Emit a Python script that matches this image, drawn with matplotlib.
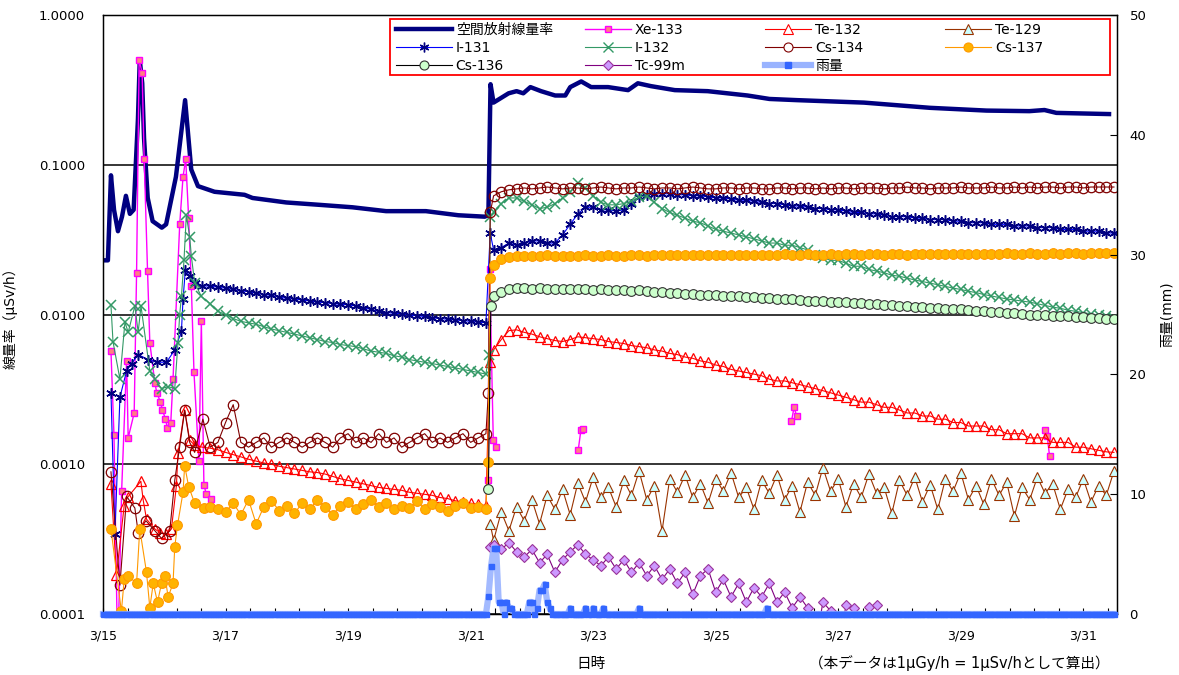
import numpy as np
import matplotlib
matplotlib.use("Agg")
import matplotlib.pyplot as plt
from matplotlib.lines import Line2D
from matplotlib.legend import Legend
from matplotlib.patches import Rectangle
from matplotlib.ticker import FixedLocator, FuncFormatter, NullLocator

plt.rcParams['font.family'] = ['DejaVu Sans', 'Noto Sans CJK JP']

# ---------------- data (x = day of March, fractional) ----------------
STEP = 0.125          # 3-hour sampling of the dense periods
PRE_START = 16.75     # 3/16 18:00
POST_START = 21.375   # 3/21 09:00

# Air dose rate (μSv/h)
DOSE_T = [15.0, 15.08, 15.13, 15.18, 15.244, 15.31, 15.374, 15.439, 15.50, 15.57,
          15.60, 15.64, 15.67, 15.73, 15.81, 15.96, 16.03, 16.19, 16.34, 16.44,
          16.55, 16.82, 17.31, 17.44, 17.99, 18.53, 19.07, 19.62, 20.27, 20.80,
          21.23, 21.29, 21.325, 21.374, 21.62, 21.75, 21.86, 21.976, 22.15, 22.38,
          22.545, 22.626, 22.805, 22.967, 23.244, 23.57, 23.73, 23.943, 24.333, 24.87,
          25.52, 25.878, 26.333, 27.42, 28.496, 29.42, 30.12, 30.366, 30.56, 31.42]
DOSE_V = [0.023, 0.023, 0.085, 0.05, 0.036, 0.045, 0.062, 0.047, 0.05, 0.2,
          0.5, 0.35, 0.15, 0.06, 0.042, 0.038, 0.04, 0.083, 0.27, 0.093,
          0.072, 0.066, 0.063, 0.060, 0.056, 0.054, 0.052, 0.049, 0.049, 0.046,
          0.045, 0.046, 0.345, 0.26, 0.30, 0.31, 0.30, 0.33, 0.31, 0.29,
          0.29, 0.33, 0.36, 0.33, 0.33, 0.315, 0.35, 0.335, 0.315, 0.31,
          0.29, 0.275, 0.27, 0.26, 0.24, 0.23, 0.228, 0.232, 0.222, 0.218]

nan = np.nan
XE133_T = [15.13, 15.179, 15.24, 15.304, 15.385, 15.411, 15.509, 15.548, 15.590, 15.639,
           15.672, 15.727, 15.764, 15.846, 15.878, 15.938, 15.971, 16.020, 16.052, 16.106,
           16.143, 16.252, 16.306, 16.350, 16.398, 16.442, 16.485, 16.566, 16.605, 16.647,
           16.686, 16.756, nan, 21.28, 21.31, 21.37, 21.42, nan, 22.756, 22.80, 22.837,
           nan, 26.236, 26.28, 26.32, nan, 30.37, 30.41, 30.45]
XE133_V = [0.0057, 0.00157, 0.00005, 0.00066, 0.0049, 0.0015, 0.0022, 0.019, 0.50, 0.41,
           0.109, 0.0195, 0.0065, 0.0035, 0.003, 0.0026, 0.0023, 0.002, 0.00175, 0.0019,
           0.0037, 0.04, 0.083, 0.109, 0.044, 0.0154, 0.0041, 0.00105, 0.009, 0.00073,
           0.00063, 0.00059, nan, 0.00079, 0.02, 0.00146, 0.0013, nan, 0.00124, 0.00169, 0.00171,
           nan, 0.00193, 0.0024, 0.0021, nan, 0.0017, 0.00155, 0.00113]

# Te-132
TE132_EARLY_T = [15.13, 15.22, 15.346, 15.40, 15.618, 15.655, 15.71, 15.846, 15.927, 16.036,
                 16.117, 16.198, 16.224, 16.333, 16.415, 16.496, 16.62]
TE132_EARLY_V = [0.00074, 0.000183, 0.00053, 0.00060, 0.00077, 0.00058, 0.00043, 0.00037, 0.00035, 0.00034,
                 0.00037, 0.00072, 0.00118, 0.0023, 0.00145, 0.00134, 0.0013]
TE132_PRE = [0.00128, 0.00125, 0.00120, 0.00116, 0.00112, 0.00108, 0.00105, 0.00102, 0.00100, 0.00097,
             0.00095, 0.00093, 0.00091, 0.00089, 0.00088, 0.00086, 0.00083, 0.00080, 0.00078, 0.00076,
             0.00074, 0.00072, 0.00070, 0.00069, 0.00068, 0.00067, 0.00065, 0.00064, 0.00063, 0.00062,
             0.00060, 0.00059, 0.00057, 0.00056, 0.00055, 0.00054, 0.00053]
TE132_JUMP_T = [21.31]
TE132_JUMP_V = [0.0048]
TE132_POST = [0.0058, 0.0068, 0.0078, 0.0079, 0.0076, 0.0074, 0.0071, 0.0069, 0.0067, 0.0066,
              0.0068, 0.0071, 0.0070, 0.0069, 0.0068, 0.0066, 0.0065, 0.0064, 0.0062, 0.0061,
              0.0060, 0.0058, 0.0057, 0.0055, 0.0054, 0.0052, 0.0051, 0.0049, 0.0048, 0.0046,
              0.0045, 0.0043, 0.0042, 0.0041, 0.0040, 0.0039, 0.0037, 0.0036, 0.0036, 0.0035,
              0.0034, 0.0033, 0.0032, 0.0031, 0.0030, 0.0029, 0.0028, 0.0027, 0.0026, 0.0026,
              0.0025, 0.0024, 0.0024, 0.0023, 0.0022, 0.0022, 0.0021, 0.0021, 0.0020, 0.0020,
              0.0019, 0.0019, 0.0018, 0.0018, 0.0018, 0.0017, 0.0017, 0.0016, 0.0016, 0.0016,
              0.0015, 0.0015, 0.0015, 0.0014, 0.0014, 0.0014, 0.0013, 0.0013, 0.00127, 0.00124,
              0.00121, 0.00120]

# Te-129
TE129_JUMP_T = [21.32]
TE129_JUMP_V = [0.00040]
TE129_POST = [0.00031, 0.00048, 0.00036, 0.00052, 0.00042, 0.00058, 0.00040, 0.00062, 0.00050, 0.00068,
              0.00046, 0.00075, 0.00056, 0.00082, 0.00060, 0.00070, 0.00052, 0.00078, 0.00062, 0.00090,
              0.00058, 0.00072, 0.00036, 0.00080, 0.00065, 0.00085, 0.00060, 0.00074, 0.00055, 0.00080,
              0.00066, 0.00088, 0.00060, 0.00070, 0.00050, 0.00078, 0.00064, 0.00085, 0.00058, 0.00072,
              0.00048, 0.00076, 0.00062, 0.00095, 0.00066, 0.00080, 0.00052, 0.00074, 0.00060, 0.00086,
              0.00064, 0.00070, 0.00047, 0.00078, 0.00062, 0.00082, 0.00056, 0.00073, 0.00050, 0.00080,
              0.00066, 0.00088, 0.00058, 0.00072, 0.00054, 0.00080, 0.00062, 0.00076, 0.00045, 0.00070,
              0.00058, 0.00082, 0.00064, 0.00074, 0.00050, 0.00068, 0.00060, 0.00080, 0.00056, 0.00072,
              0.00062, 0.00090]

# I-131
I131_EARLY_T = [15.13, 15.195, 15.276, 15.385, 15.466, 15.574, 15.737, 15.874, 16.036, 16.171,
                16.28, 16.306, 16.344, 16.415, 16.496, 16.62]
I131_EARLY_V = [0.003, 0.00034, 0.0028, 0.0042, 0.0047, 0.0054, 0.005, 0.0048, 0.0048, 0.0058,
                0.0077, 0.0126, 0.0198, 0.018, 0.0163, 0.0155]
I131_PRE = [0.0155, 0.0152, 0.0150, 0.0147, 0.0144, 0.0142, 0.0139, 0.0136, 0.0134, 0.0131,
            0.0128, 0.0127, 0.0125, 0.0123, 0.0121, 0.0120, 0.0118, 0.0117, 0.0116, 0.0114,
            0.0111, 0.0108, 0.0105, 0.0103, 0.0102, 0.0101, 0.0099, 0.0098, 0.0097, 0.0095,
            0.0094, 0.0093, 0.0092, 0.0091, 0.0090, 0.0089, 0.0088]
I131_JUMP_T = [21.32]
I131_JUMP_V = [0.035]
I131_POST = [0.027, 0.028, 0.030, 0.029, 0.030, 0.031, 0.031, 0.030, 0.030, 0.034,
             0.040, 0.047, 0.052, 0.052, 0.050, 0.050, 0.049, 0.050, 0.055, 0.061,
             0.063, 0.064, 0.064, 0.064, 0.063, 0.063, 0.062, 0.062, 0.061, 0.060,
             0.060, 0.059, 0.058, 0.058, 0.057, 0.056, 0.055, 0.055, 0.054, 0.053,
             0.053, 0.052, 0.051, 0.051, 0.050, 0.050, 0.049, 0.048, 0.048, 0.047,
             0.047, 0.046, 0.045, 0.045, 0.045, 0.044, 0.044, 0.043, 0.043, 0.043,
             0.042, 0.042, 0.041, 0.041, 0.041, 0.040, 0.040, 0.040, 0.039, 0.039,
             0.039, 0.038, 0.038, 0.038, 0.037, 0.037, 0.037, 0.036, 0.036, 0.036,
             0.035, 0.035]

# I-132
I132_EARLY_T = [15.13, 15.163, 15.276, 15.358, 15.411, 15.52, 15.574, 15.62, 15.764, 15.846,
                15.955, 16.063, 16.171, 16.224, 16.252, 16.28, 16.322, 16.36, 16.415, 16.442,
                16.496, 16.605]
I132_EARLY_V = [0.0115, 0.0066, 0.0037, 0.0089, 0.0076, 0.0114, 0.0076, 0.0114, 0.0042, 0.0037,
                0.0032, 0.0033, 0.0032, 0.0065, 0.010, 0.0132, 0.023, 0.046, 0.033, 0.0245,
                0.0163, 0.0132]
I132_PRE = [0.0118, 0.0105, 0.0100, 0.0094, 0.0090, 0.0088, 0.0086, 0.0083, 0.0080, 0.0078,
            0.0076, 0.0074, 0.0072, 0.0070, 0.0068, 0.0066, 0.0065, 0.0063, 0.0062, 0.0061,
            0.0059, 0.0057, 0.0056, 0.0055, 0.0053, 0.0052, 0.0050, 0.0049, 0.0048, 0.0047,
            0.0046, 0.0045, 0.0044, 0.0043, 0.0042, 0.0041, 0.0040]
I132_JUMP_T = [21.30, 21.32]
I132_JUMP_V = [0.0054, 0.045]
I132_POST = [0.048, 0.055, 0.060, 0.060, 0.057, 0.054, 0.051, 0.052, 0.055, 0.060,
             0.066, 0.075, 0.070, 0.062, 0.056, 0.054, 0.054, 0.055, 0.057, 0.061,
             0.062, 0.056, 0.051, 0.048, 0.046, 0.044, 0.042, 0.041, 0.039, 0.037,
             0.036, 0.035, 0.034, 0.033, 0.032, 0.031, 0.030, 0.030, 0.029, 0.029,
             0.028, 0.027, 0.025, 0.024, 0.023, 0.023, 0.022, 0.021, 0.021, 0.020,
             0.0195, 0.019, 0.0183, 0.018, 0.0175, 0.017, 0.0166, 0.0162, 0.0158, 0.0154,
             0.015, 0.0147, 0.0143, 0.014, 0.0136, 0.0133, 0.013, 0.0127, 0.0125, 0.0123,
             0.0121, 0.0118, 0.0115, 0.0112, 0.0110, 0.0107, 0.0105, 0.0103, 0.0101, 0.0099,
             0.0097, 0.0095]

# Cs-134
CS134_EARLY_T = [15.13, 15.276, 15.385, 15.52, 15.574, 15.70, 15.846, 15.955, 16.09, 16.171,
                 16.25, 16.333, 16.415, 16.496, 16.63]
CS134_EARLY_V = [0.00089, 0.000156, 0.00061, 0.00051, 0.00035, 0.00042, 0.00036, 0.00032, 0.00036, 0.00078,
                 0.0013, 0.0023, 0.0014, 0.0012, 0.0020]
CS134_PRE = [0.0013, 0.0014, 0.0019, 0.0025, 0.0014, 0.0013, 0.0014, 0.0015, 0.0013, 0.0014,
             0.0015, 0.0014, 0.0013, 0.0014, 0.0015, 0.0014, 0.0013, 0.0015, 0.0016, 0.0014,
             0.0015, 0.0014, 0.0016, 0.0014, 0.0015, 0.0013, 0.0014, 0.0015, 0.0016, 0.0014,
             0.0015, 0.0014, 0.0015, 0.0016, 0.0014, 0.0015, 0.0016]
CS134_JUMP_T = [21.29, 21.32]
CS134_JUMP_V = [0.0030, 0.048]
CS134_POST = [0.062, 0.066, 0.068, 0.069, 0.070, 0.069, 0.070, 0.071, 0.070, 0.069,
              0.070, 0.070, 0.069, 0.070, 0.071, 0.070, 0.069, 0.070, 0.070, 0.071,
              0.070, 0.069, 0.070, 0.070, 0.069, 0.070, 0.071, 0.070, 0.069, 0.069,
              0.070, 0.070, 0.069, 0.070, 0.070, 0.069, 0.069, 0.070, 0.070, 0.069,
              0.070, 0.070, 0.069, 0.070, 0.069, 0.070, 0.070, 0.069, 0.070, 0.070,
              0.070, 0.069, 0.070, 0.070, 0.071, 0.070, 0.070, 0.069, 0.070, 0.070,
              0.070, 0.071, 0.070, 0.070, 0.070, 0.071, 0.070, 0.070, 0.071, 0.070,
              0.071, 0.070, 0.071, 0.071, 0.070, 0.071, 0.071, 0.070, 0.071, 0.071,
              0.071, 0.071]

# Cs-137
CS137_EARLY_T = [15.13, 15.30, 15.346, 15.411, 15.548, 15.60, 15.71, 15.764, 15.82, 15.89,
                 15.955, 16.01, 16.063, 16.143, 16.171, 16.215, 16.306, 16.333, 16.398, 16.496,
                 16.65]
CS137_EARLY_V = [0.00037, 0.000104, 0.00017, 0.00018, 0.00016, 0.00037, 0.00019, 0.00011, 0.00016, 0.00012,
                 0.00016, 0.00018, 0.00013, 0.00016, 0.00028, 0.00039, 0.00065, 0.00098, 0.00071, 0.00055,
                 0.00051]
CS137_PRE = [0.00052, 0.00050, 0.00048, 0.00055, 0.00046, 0.00058, 0.00040, 0.00052, 0.00057, 0.00049,
             0.00053, 0.00047, 0.00055, 0.00050, 0.00058, 0.00052, 0.00046, 0.00053, 0.00056, 0.00050,
             0.00054, 0.00058, 0.00052, 0.00055, 0.00050, 0.00053, 0.00051, 0.00057, 0.00050, 0.00054,
             0.00052, 0.00049, 0.00053, 0.00055, 0.00051, 0.00052, 0.00050]
CS137_JUMP_T = [21.28, 21.32]
CS137_JUMP_V = [0.00103, 0.0175]
CS137_POST = [0.0215, 0.0235, 0.0242, 0.0246, 0.0245, 0.0247, 0.0246, 0.0248, 0.0246, 0.0247,
              0.0245, 0.0247, 0.0248, 0.0246, 0.0247, 0.0248, 0.0247, 0.0246, 0.0248, 0.0249,
              0.0247, 0.0248, 0.0249, 0.0250, 0.0248, 0.0249, 0.0250, 0.0249, 0.0251, 0.0250,
              0.0249, 0.0250, 0.0251, 0.0250, 0.0249, 0.0251, 0.0250, 0.0251, 0.0252, 0.0250,
              0.0251, 0.0252, 0.0251, 0.0250, 0.0252, 0.0251, 0.0252, 0.0253, 0.0251, 0.0252,
              0.0252, 0.0251, 0.0253, 0.0252, 0.0251, 0.0253, 0.0252, 0.0254, 0.0253, 0.0252,
              0.0254, 0.0253, 0.0255, 0.0254, 0.0253, 0.0255, 0.0254, 0.0256, 0.0255, 0.0254,
              0.0256, 0.0255, 0.0254, 0.0256, 0.0255, 0.0257, 0.0256, 0.0255, 0.0257, 0.0256,
              0.0256, 0.0257]

# Cs-136
CS136_JUMP_T = [21.29, 21.33]
CS136_JUMP_V = [0.00068, 0.0114]
CS136_POST = [0.0132, 0.0142, 0.0147, 0.0150, 0.0150, 0.0149, 0.0150, 0.0148, 0.0149, 0.0147,
              0.0148, 0.0149, 0.0147, 0.0146, 0.0147, 0.0146, 0.0145, 0.0146, 0.0144, 0.0145,
              0.0143, 0.0142, 0.0141, 0.0140, 0.0139, 0.0138, 0.0137, 0.0136, 0.0135, 0.0134,
              0.0133, 0.0132, 0.0132, 0.0131, 0.0130, 0.0129, 0.0128, 0.0127, 0.0127, 0.0126,
              0.0125, 0.0124, 0.0124, 0.0123, 0.0122, 0.0122, 0.0121, 0.0120, 0.0119, 0.0118,
              0.0117, 0.0116, 0.0115, 0.0114, 0.0114, 0.0113, 0.0112, 0.0111, 0.0110, 0.0109,
              0.0108, 0.0108, 0.0107, 0.0106, 0.0105, 0.0104, 0.0104, 0.0103, 0.0102, 0.0101,
              0.0100, 0.0100, 0.0099, 0.0098, 0.0098, 0.0097, 0.0096, 0.0096, 0.0095, 0.0095,
              0.0094, 0.0094]

# Tc-99m
TC99M_JUMP_T = [21.32]
TC99M_JUMP_V = [0.00028]
TC99M_POST = [0.00029, 0.00027, 0.00030, 0.00026, 0.00024, 0.00027, 0.00022, 0.00025, 0.00019, 0.00023,
              0.00026, 0.00029, 0.00025, 0.00023, 0.00021, 0.00024, 0.00020, 0.00023, 0.00019, 0.00022,
              0.00018, 0.00021, 0.00017, 0.00020, 0.00016, 0.00019, 0.000135, 0.00018, 0.00020, 0.00014,
              0.00017, 0.00013, 0.00016, 0.00012, 0.00015, 0.00013, 0.00016, 0.00012, 0.00014, 0.00011,
              0.00013, 0.00011, 0.00006, 0.00012, 0.000105, 0.00005, 0.000115, 0.00011, 0.00004, 0.000112,
              0.000115]

# Rain (mm/h): hours after 3/21 00:00 with rain; every other hour is 0
RAIN_WET_H = [7, 8, 9, 10, 11, 12, 14, 15, 16, 23, 24, 26, 27, 28, 29, 30, 31, 39, 45, 48, 52, 66, 116]
RAIN_WET_MM = [1.5, 4.0, 5.5, 5.5, 1.0, 1.0, 1.0, 0.5, 0.5, 1.0, 1.0, 0.5, 2.0, 2.0, 2.5, 1.0, 0.5,
               0.5, 0.5, 0.5, 0.5, 0.5, 0.5]

X_TICK_DAYS = [15, 17, 19, 21, 23, 25, 27, 29, 31]
X_TICK_LABELS = ['3/15', '3/17', '3/19', '3/21', '3/23', '3/25', '3/27', '3/29', '3/31']
Y_TICKS = [0.0001, 0.001, 0.01, 0.1, 1.0]
RAIN_TICKS = [0, 10, 20, 30, 40, 50]


def build(early_t=(), early_v=(), pre_v=(), jump_t=(), jump_v=(), post_v=()):
    t = np.concatenate([np.asarray(early_t, float),
                        PRE_START + STEP * np.arange(len(pre_v)),
                        np.asarray(jump_t, float),
                        POST_START + STEP * np.arange(len(post_v))])
    v = np.concatenate([np.asarray(early_v, float), np.asarray(pre_v, float),
                        np.asarray(jump_v, float), np.asarray(post_v, float)])
    return t, v


# ---------------- figure ----------------
fig = plt.figure(figsize=(11.79, 6.75), dpi=100)
fig.patch.set_facecolor('white')
ax = fig.add_axes([103 / 1179, 61 / 675, 1014 / 1179, 599 / 675])

ax.plot(DOSE_T, DOSE_V, color='#000080', lw=3.2, solid_joinstyle='round', zorder=2)

ax.plot(XE133_T, XE133_V, color='#FF00FF', lw=1.0, marker='s', ms=4.5,
        mfc='#FF8080', mec='#FF00FF', mew=1.0, zorder=3)

t, v = build(TE132_EARLY_T, TE132_EARLY_V, TE132_PRE, TE132_JUMP_T, TE132_JUMP_V, TE132_POST)
ax.plot(t, v, color='#FF0000', lw=0.8, marker='^', ms=7, mfc='none', mec='#FF0000', mew=0.9, zorder=3)

t, v = build(jump_t=TE129_JUMP_T, jump_v=TE129_JUMP_V, post_v=TE129_POST)
ax.plot(t, v, color='#993300', lw=0.8, marker='^', ms=7.5, mfc='#CCFFFF', mec='#993300', mew=0.8, zorder=3)

t, v = build(I131_EARLY_T, I131_EARLY_V, I131_PRE, I131_JUMP_T, I131_JUMP_V, I131_POST)
ax.plot(t, v, color='#0000FF', lw=0.8, marker=(6, 2, 0), ms=7.5, mec='#000080', mew=1.1, zorder=3)

t, v = build(I132_EARLY_T, I132_EARLY_V, I132_PRE, I132_JUMP_T, I132_JUMP_V, I132_POST)
ax.plot(t, v, color='#339966', lw=0.8, marker='x', ms=7.5, mec='#339966', mew=1.1, zorder=3)

t, v = build(CS134_EARLY_T, CS134_EARLY_V, CS134_PRE, CS134_JUMP_T, CS134_JUMP_V, CS134_POST)
ax.plot(t, v, color='#800000', lw=0.8, marker='o', ms=7.5, mfc='none', mec='#800000', mew=0.9, zorder=3)

t, v = build(CS137_EARLY_T, CS137_EARLY_V, CS137_PRE, CS137_JUMP_T, CS137_JUMP_V, CS137_POST)
ax.plot(t, v, color='#FF9900', lw=0.8, marker='o', ms=7, mfc='#FFB300', mec='#FF9900', mew=0.8, zorder=3)

t, v = build(jump_t=CS136_JUMP_T, jump_v=CS136_JUMP_V, post_v=CS136_POST)
ax.plot(t, v, color='black', lw=0.8, marker='o', ms=7, mfc='#CCFFCC', mec='#333333', mew=0.8, zorder=3)

t, v = build(jump_t=TC99M_JUMP_T, jump_v=TC99M_JUMP_V, post_v=TC99M_POST)
ax.plot(t, v, color='#800080', lw=0.8, marker='D', ms=5.5, mfc='#CC99FF', mec='#993399', mew=0.8, zorder=3)

ax.set_yscale('log')
ax.set_ylim(1e-4, 1.0)
ax.set_xlim(15, 31.55)
ax.yaxis.set_major_locator(FixedLocator(Y_TICKS))
ax.yaxis.set_minor_locator(NullLocator())
ax.yaxis.set_major_formatter(FuncFormatter(lambda y, p: f'{y:.4f}'))
ax.grid(axis='y', which='major', color='black', lw=1.1)
ax.set_axisbelow(True)
ax.tick_params(axis='y', length=0, pad=13, labelsize=9.5)
ax.set_xticks(X_TICK_DAYS)
ax.set_xticklabels(X_TICK_LABELS)
ax.xaxis.set_minor_locator(FixedLocator(15 + 0.4 * np.arange(42)))
ax.tick_params(axis='x', which='both', direction='in', length=4, width=0.8, pad=11, labelsize=9)
for s in ax.spines.values():
    s.set_color('black')
    s.set_linewidth(1.0)

ax.set_ylabel('線量率（μSv/h）', fontsize=10)
ax.yaxis.set_label_coords(-0.084, 0.5)
ax.set_xlabel('日時', fontsize=10.5, va='center')
ax.xaxis.set_label_coords(0.481, -0.082)

# rain on secondary axis
ax2 = ax.twinx()
rain_t = 15 + np.arange(0, int(16.5 * 24) + 1) / 24.0
rain_v = np.zeros_like(rain_t)
for h, mm in zip(RAIN_WET_H, RAIN_WET_MM):
    rain_v[int(round((21 - 15) * 24 + h))] = mm
ax2.plot(rain_t, rain_v, color='#99B3FF', lw=4.5, alpha=0.9, clip_on=False, zorder=2)
ax2.plot(rain_t, rain_v, ls='none', marker='s', ms=3.6, color='#3366FF', clip_on=False, zorder=3)
ax2.set_ylim(0, 50)
ax2.set_xlim(15, 31.55)
ax2.set_yticks(RAIN_TICKS)
ax2.tick_params(axis='y', direction='in', length=5, width=0.8, pad=9, labelsize=9.5)
ax2.set_ylabel('雨量(mm)', fontsize=10)
ax2.yaxis.set_label_coords(1.042, 0.5)

# legend (4 columns, framed in red)
def H(**kw):
    return Line2D([], [], **kw)

handles = {
    '空間放射線量率': H(color='#000080', lw=3.2),
    'Xe-133': H(color='#FF00FF', lw=1.0, marker='s', ms=4.5, mfc='#FF8080', mec='#FF00FF'),
    'Te-132': H(color='#FF0000', lw=0.8, marker='^', ms=6.5, mfc='white', mec='#FF0000', mew=0.8),
    'Te-129': H(color='#993300', lw=0.8, marker='^', ms=6.5, mfc='#CCFFFF', mec='#993300', mew=0.8),
    'I-131': H(color='#0000FF', lw=0.8, marker=(6, 2, 0), ms=7, mec='#000080', mew=1.0),
    'I-132': H(color='#339966', lw=0.8, marker='x', ms=7, mec='#339966', mew=1.0),
    'Cs-134': H(color='#800000', lw=0.8, marker='o', ms=6.5, mfc='white', mec='#800000', mew=0.8),
    'Cs-137': H(color='#FF9900', lw=0.8, marker='o', ms=6.5, mfc='#FFB300', mec='#FF9900', mew=0.8),
    'Cs-136': H(color='black', lw=0.8, marker='o', ms=6.5, mfc='#CCFFCC', mec='#333333', mew=0.8),
    'Tc-99m': H(color='#800080', lw=0.8, marker='D', ms=5, mfc='#CC99FF', mec='#993399', mew=0.8),
    '雨量': H(color='#99B3FF', lw=4.5, marker='s', ms=4.5, mfc='#3366FF', mec='#3366FF'),
}
columns = [['空間放射線量率', 'I-131', 'Cs-136'],
           ['Xe-133', 'I-132', 'Tc-99m'],
           ['Te-132', 'Cs-134', '雨量'],
           ['Te-129', 'Cs-137']]
col_px = [396, 585, 765, 945]
frame = Rectangle(((390 - 103) / 1014, (614 - 75) / 599), (1110 - 390) / 1014, 56 / 599,
                  transform=ax2.transAxes, facecolor='white', edgecolor='#FF0000',
                  lw=1.3, zorder=4, clip_on=False)
ax2.add_patch(frame)
for i, (names, px) in enumerate(zip(columns, col_px)):
    leg = Legend(ax2, [handles[n] for n in names], names, loc='upper left',
                 bbox_to_anchor=((px - 103) / 1014, (614 - 23) / 599),
                 bbox_transform=ax2.transAxes, frameon=False, borderpad=0,
                 borderaxespad=0, handlelength=4.0 if i == 0 else 3.3,
                 handletextpad=0.3, labelspacing=0.28, fontsize=10)
    leg.set_zorder(6)
    ax2.add_artist(leg)

fig.text(1110 / 1179, 12 / 675, '（本データは1μGy/h = 1μSv/hとして算出）',
         ha='right', va='center', fontsize=10.5)

fig.savefig('out.png', dpi=100, facecolor='white')
